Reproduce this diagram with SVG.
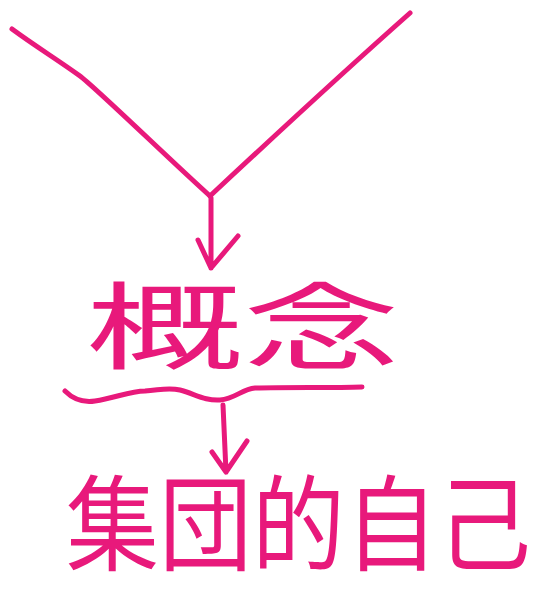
<svg xmlns="http://www.w3.org/2000/svg" width="541" height="595" viewBox="0 0 541 595">
<style>
.ink{fill:none;stroke:#e8197b;stroke-width:5;stroke-linecap:round;stroke-linejoin:round}
.lbl{fill:#e8197b;font-family:"Noto Sans CJK JP","Noto Sans CJK SC",sans-serif;font-weight:normal}
</style>
<rect width="541" height="595" fill="#ffffff"/>
<g id="connectors">
<path class="ink" d="M12,29 C35,46 58,60 80,76 C95,87 170,160 210,196"/>
<path class="ink" d="M210,196 C270,140 340,75 410,13"/>
<path class="ink" d="M211,198 L211,268 M198,240 L211,268 L238,236"/>
<path class="ink" d="M65,391 C72,398 82,403 95,401 C115,398 130,391 145,391 C160,390 168,387 180,390 C195,394 205,401 220,400 C235,399 242,389 255,388 C290,387 330,388 362,387"/>
<path class="ink" d="M223,405 L226,472 M212,452 L226,472 L247,441"/>
</g>
<g id="node-concept">
<text class="lbl" x="86" y="362" font-size="95" textLength="314" lengthAdjust="spacingAndGlyphs">概念</text>
</g>
<g id="node-collective-self">
<text class="lbl" transform="translate(66,563) scale(1,1.12)" x="0" y="0" font-size="93">集団的自己</text>
</g>
</svg>
